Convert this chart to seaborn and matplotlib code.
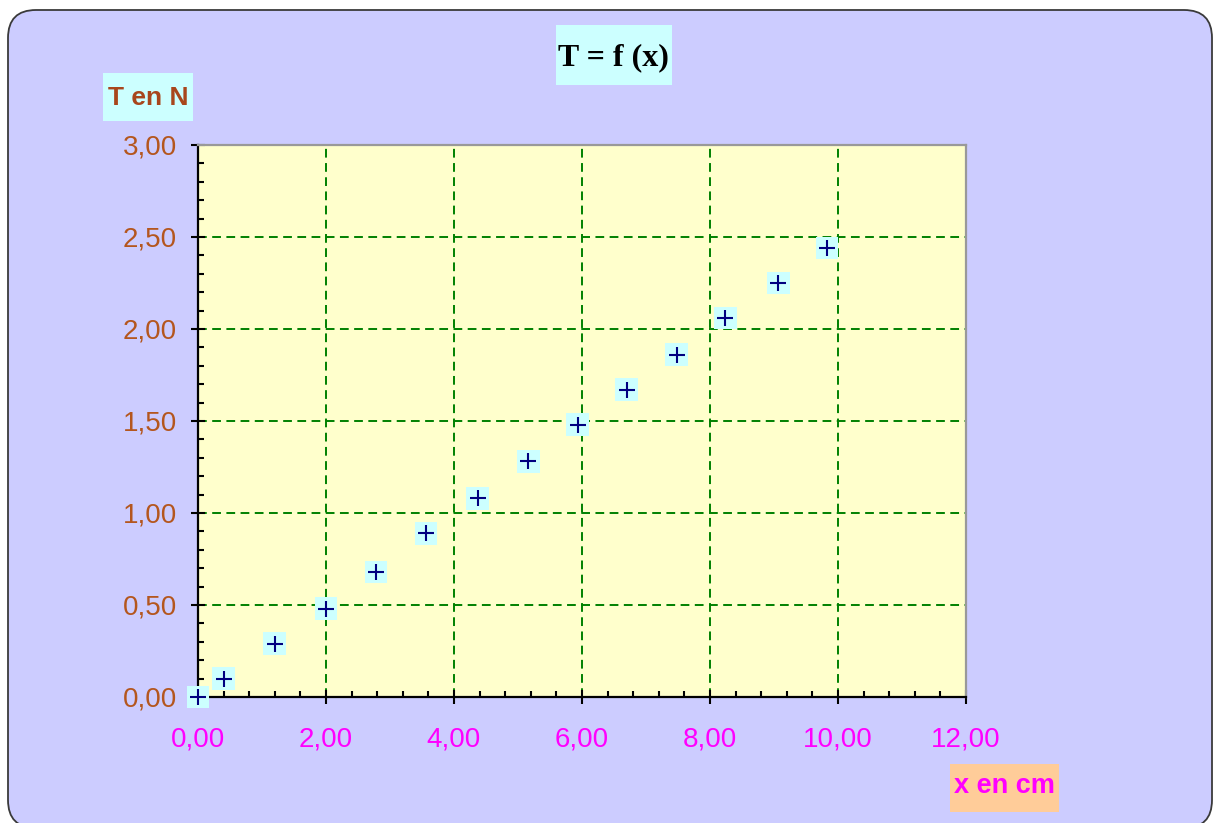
import numpy as np
import pandas as pd
import seaborn as sns
import matplotlib
matplotlib.use("Agg")
import matplotlib.pyplot as plt
from matplotlib.patches import FancyBboxPatch, Rectangle
from matplotlib.ticker import MultipleLocator, FuncFormatter

# ---- data ----
x_cm = [0.00, 0.40, 1.20, 2.00, 2.78, 3.56, 4.37, 5.16, 5.93, 6.70, 7.48, 8.24, 9.07, 9.83]
T_N = [0.00, 0.10, 0.29, 0.48, 0.68, 0.89, 1.08, 1.28, 1.48, 1.67, 1.86, 2.06, 2.25, 2.44]
title_text = "T = f (x)"
ylabel_text = "T en N"
xlabel_text = "x en cm"

df = pd.DataFrame({"x": x_cm, "T": T_N})

sns.set_theme(style="ticks")
plt.rcParams["font.family"] = ["Liberation Sans", "DejaVu Sans"]

W, H = 1216, 823
fig = plt.figure(figsize=(W / 100, H / 100), dpi=100, facecolor="white")

# background layer in pixel coordinates
bg = fig.add_axes([0, 0, 1, 1])
bg.set_xlim(0, W)
bg.set_ylim(H, 0)
bg.axis("off")
bg.add_patch(FancyBboxPatch((8, 10), 1204, 818,
                            boxstyle="round,pad=0,rounding_size=28",
                            fc="#CCCCFF", ec="#3a3a3a", lw=1.3))
# title box
bg.add_patch(Rectangle((555.5, 25), 116, 60, fc="#CCFFFF", ec="none"))
bg.text(613.5, 65, title_text, ha="center", va="baseline", fontsize=23,
        fontweight="bold", family=["Liberation Serif", "DejaVu Serif"], color="black")
# y label box
bg.add_patch(Rectangle((103, 73), 90, 48, fc="#CCFFFF", ec="none"))
bg.text(148, 105, ylabel_text, ha="center", va="baseline", fontsize=19,
        fontweight="bold", color="#A8461C")
# x label box
bg.add_patch(Rectangle((950, 764), 109, 48, fc="#FFCC99", ec="none"))
bg.text(1004.5, 793, xlabel_text, ha="center", va="baseline", fontsize=19.5,
        fontweight="bold", color="#FF00FF")

# main axes
ax = fig.add_axes([198 / W, 1 - 697 / H, (966 - 198) / W, (697 - 145) / H])
ax.set_facecolor("#FFFFCC")

sns.scatterplot(data=df, x="x", y="T", marker="s", s=265, color="#CCFFFF",
                edgecolor="none", linewidth=0, ax=ax, clip_on=False, zorder=3)
sns.scatterplot(data=df, x="x", y="T", marker="+", s=125, color="#000080",
                linewidth=1.5, ax=ax, clip_on=False, zorder=4)

ax.set_xlim(0, 12)
ax.set_ylim(0, 3)
ax.set_xlabel("")
ax.set_ylabel("")

ax.xaxis.set_major_locator(MultipleLocator(2))
ax.xaxis.set_minor_locator(MultipleLocator(0.4))
ax.yaxis.set_major_locator(MultipleLocator(0.5))
ax.yaxis.set_minor_locator(MultipleLocator(0.1))
fmt = FuncFormatter(lambda v, p: f"{v:.2f}".replace(".", ","))
ax.xaxis.set_major_formatter(fmt)
ax.yaxis.set_major_formatter(fmt)

ax.grid(True, which="major", color="#008000", linestyle=(0, (4.5, 2.8)), linewidth=1.4)
ax.set_axisbelow(True)

ax.tick_params(axis="both", which="major", direction="inout", length=10, width=1.5,
               color="black", bottom=True, left=True, top=False, right=False)
ax.tick_params(axis="both", which="minor", direction="in", length=4, width=1.5,
               color="black", bottom=True, left=True, top=False, right=False)
ax.tick_params(axis="x", which="major", labelsize=20, labelcolor="#FF00FF", pad=16)
ax.tick_params(axis="y", which="major", labelsize=20, labelcolor="#B4561E", pad=10)

for side in ["left", "bottom"]:
    ax.spines[side].set_color("black")
    ax.spines[side].set_linewidth(1.6)
for side in ["top", "right"]:
    ax.spines[side].set_visible(True)
    ax.spines[side].set_color("#999999")
    ax.spines[side].set_linewidth(1.6)

fig.savefig("out.png", dpi=100, facecolor="white")
